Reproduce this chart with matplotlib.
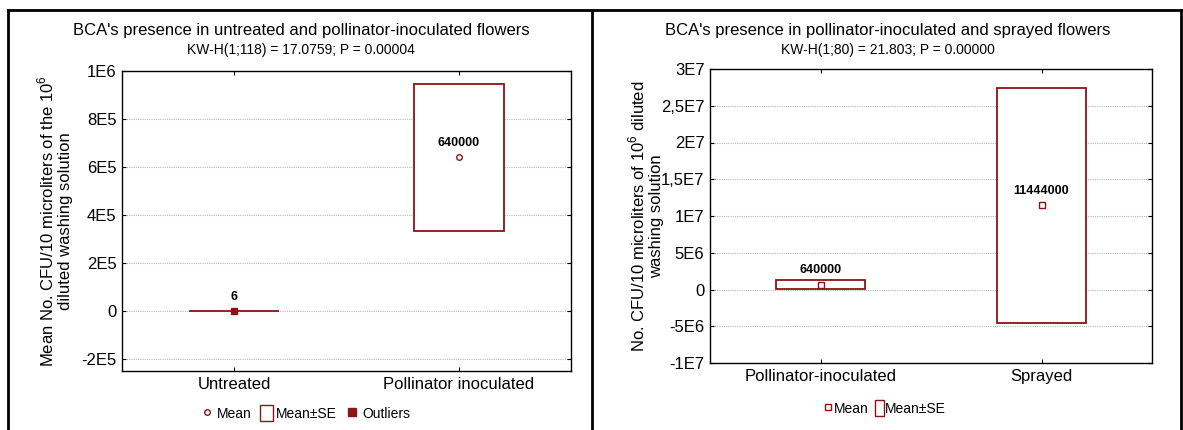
import matplotlib
matplotlib.use("Agg")
import matplotlib.pyplot as plt
from matplotlib.lines import Line2D
from matplotlib.patches import Patch

plt.rcParams['font.family'] = ['Liberation Sans', 'DejaVu Sans']
plt.rcParams['mathtext.fontset'] = 'custom'
plt.rcParams['mathtext.rm'] = 'Liberation Sans'

RED = '#8b1414'

# left panel: untreated vs pollinator-inoculated
groups1 = ['Untreated', 'Pollinator inoculated']
means1 = [6, 640000]
se1 = [2, 306000]
labels1 = ['6', '640000']
outlier_x1 = [1]
outlier_y1 = [600]
yticks1 = [-2e5, 0, 2e5, 4e5, 6e5, 8e5, 1e6]
yticklabels1 = ['-2E5', '0', '2E5', '4E5', '6E5', '8E5', '1E6']

# right panel: pollinator-inoculated vs sprayed
groups2 = ['Pollinator-inoculated', 'Sprayed']
means2 = [640000, 11444000]
se2 = [630000, 16000000]
labels2 = ['640000', '11444000']
yticks2 = [-1e7, -5e6, 0, 5e6, 1e7, 1.5e7, 2e7, 2.5e7, 3e7]
yticklabels2 = ['-1E7', '-5E6', '0', '5E6', '1E7', '1,5E7', '2E7', '2,5E7', '3E7']

W, H = 1183, 430
fig = plt.figure(figsize=(W / 100, H / 100), dpi=100)

def px(x0, y0, x1, y1):
    return [x0 / W, 1 - y1 / H, (x1 - x0) / W, (y1 - y0) / H]

ax1 = fig.add_axes(px(122, 71, 571, 371))
ax2 = fig.add_axes(px(710, 69, 1152, 363))

def style(ax, groups, yticks, yticklabels, ylim):
    x = list(range(1, len(groups) + 1))
    ax.set_xlim(0.5, 2.5)
    ax.set_ylim(*ylim)
    ax.set_xticks(x)
    ax.set_xticklabels(groups, fontsize=12)
    ax.set_yticks(yticks)
    ax.set_yticklabels(yticklabels, fontsize=12)
    ax.yaxis.grid(True, linestyle=(0, (1, 1)), color='#b8b8b8', linewidth=0.8)
    ax.set_axisbelow(True)
    ax.tick_params(direction='in', top=True, right=True, length=3, width=0.8, pad=4)
    for s in ax.spines.values():
        s.set_linewidth(1.0)
    return x

x1 = style(ax1, groups1, yticks1, yticklabels1, (-2.5e5, 1e6))
ax1.bar(x1, [2 * s for s in se1], bottom=[m - s for m, s in zip(means1, se1)], width=0.4,
        facecolor='white', edgecolor=RED, linewidth=1.3, zorder=2)
ax1.plot(x1, means1, 'o', ms=4, mfc='white', mec=RED, mew=1.0, ls='none', zorder=3)
ax1.plot(outlier_x1, outlier_y1, 's', ms=5, color=RED, zorder=4)
for xi, m, t in zip(x1, means1, labels1):
    ax1.annotate(t, (xi, m), xytext=(0, 6), textcoords='offset points', ha='center',
                 va='bottom', fontsize=9, fontweight='bold')
ax1.set_ylabel('Mean No. CFU/10 microliters of the 10$^6$\ndiluted washing solution',
               fontsize=12, labelpad=6, linespacing=1.1)

x2 = style(ax2, groups2, yticks2, yticklabels2, (-1e7, 3e7))
ax2.bar(x2, [2 * s for s in se2], bottom=[m - s for m, s in zip(means2, se2)], width=0.4,
        facecolor='white', edgecolor=RED, linewidth=1.3, zorder=2)
ax2.plot(x2, means2, 's', ms=5, mfc='white', mec=RED, mew=1.0, ls='none', zorder=3)
for xi, m, t in zip(x2, means2, labels2):
    ax2.annotate(t, (xi, m), xytext=(0, 6), textcoords='offset points', ha='center',
                 va='bottom', fontsize=9, fontweight='bold')
ax2.set_ylabel('No. CFU/10 microliters of 10$^6$ diluted\nwashing solution',
               fontsize=12, linespacing=1.1)
ax2.yaxis.set_label_coords(-0.105, 0.5)

# titles
fig.text(301 / W, 1 - 30 / H, "BCA's presence in untreated and pollinator-inoculated flowers",
         ha='center', va='center', fontsize=12)
fig.text(301 / W, 1 - 50 / H, 'KW-H(1;118) = 17.0759; P = 0.00004',
         ha='center', va='center', fontsize=10)
fig.text(888 / W, 1 - 30 / H, "BCA's presence in pollinator-inoculated and sprayed flowers",
         ha='center', va='center', fontsize=12)
fig.text(888 / W, 1 - 50 / H, 'KW-H(1;80) = 21.803; P = 0.00000',
         ha='center', va='center', fontsize=10)

# legends
h_mean1 = Line2D([], [], marker='o', ms=4, mfc='white', mec=RED, ls='none')
h_se = Patch(facecolor='white', edgecolor=RED, linewidth=1.0)
h_out = Line2D([], [], marker='s', ms=6, color=RED, ls='none')
fig.legend([h_mean1, h_se, h_out], ['Mean', 'Mean±SE', 'Outliers'], loc='center',
           bbox_to_anchor=(305 / W, 1 - 413 / H), ncol=3, frameon=False, fontsize=10,
           handlelength=1.0, handleheight=1.3, handletextpad=0.2, columnspacing=0.6,
           borderpad=0.1)

h_mean2 = Line2D([], [], marker='s', ms=5, mfc='white', mec=RED, ls='none')
fig.legend([h_mean2, h_se], ['Mean', 'Mean±SE'], loc='center',
           bbox_to_anchor=(885 / W, 1 - 408 / H), ncol=2, frameon=False, fontsize=10,
           handlelength=0.6, handleheight=1.3, handletextpad=0.1, columnspacing=0.5,
           borderpad=0.1)

# panel frames
for xs, ys in [([8, 1181], [10, 10]), ([8, 8], [10, 430]),
               ([592, 592], [10, 430]), ([1181, 1181], [10, 430])]:
    fig.add_artist(Line2D([v / W for v in xs], [1 - v / H for v in ys], color='black', lw=2))

fig.savefig('out.png', dpi=100)
